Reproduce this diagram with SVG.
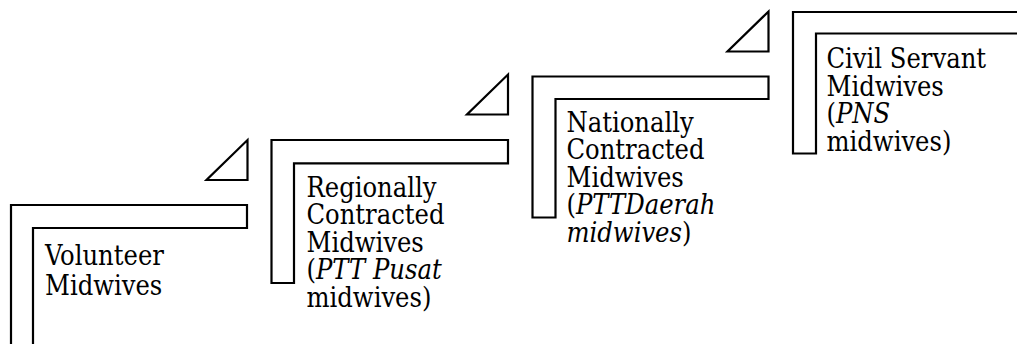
<svg xmlns="http://www.w3.org/2000/svg" width="1017" height="344" viewBox="0 0 1017 344">
  <style>
    .step { fill: #ffffff; stroke: #000000; stroke-width: 2.2; stroke-linejoin: miter; }
    .arrow { fill: #ffffff; stroke: #000000; stroke-width: 2.2; stroke-linejoin: miter; }
    .label { font-family: 'DejaVu Serif Condensed', 'DejaVu Serif', serif; font-stretch: condensed; font-size: 27px; fill: #000000; }
    .it { font-style: italic; }
  </style>
  <rect width="1017" height="344" fill="#ffffff"/>

  <!-- rising triangles between the steps -->
  <g id="connectors">
    <polygon class="arrow" points="247.5,140 247.5,180 206.5,180"/>
    <polygon class="arrow" points="508,74.5 508,114.5 467,114.5"/>
    <polygon class="arrow" points="768.5,11.5 768.5,51.5 727.5,51.5"/>
  </g>

  <!-- step 1 -->
  <g id="step-volunteer">
    <path class="step" d="M11,352 V205 H247 V228 H33 V352 Z"/>
    <text class="label" x="45" y="265">
      <tspan x="45">Volunteer</tspan>
      <tspan x="45" dy="29.5">Midwives</tspan>
    </text>
  </g>

  <!-- step 2 -->
  <g id="step-regional">
    <path class="step" d="M271.5,283 V140 H508 V163.3 H294 V283 Z"/>
    <text class="label" x="306.5" y="196.7">
      <tspan x="306.5">Regionally</tspan>
      <tspan x="306.5" dy="27.5">Contracted</tspan>
      <tspan x="306.5" dy="27.5">Midwives</tspan>
      <tspan x="306.5" dy="27.5">(<tspan class="it">PTT Pusat</tspan></tspan>
      <tspan x="306.5" dy="27.5">midwives)</tspan>
    </text>
  </g>

  <!-- step 3 -->
  <g id="step-national">
    <path class="step" d="M532.5,217.5 V76.5 H768.5 V99 H555.5 V217.5 Z"/>
    <text class="label" x="566.5" y="131.7">
      <tspan x="566.5">Nationally</tspan>
      <tspan x="566.5" dy="27.5">Contracted</tspan>
      <tspan x="566.5" dy="27.5">Midwives</tspan>
      <tspan x="566.5" dy="27.5">(<tspan class="it">PTTDaerah</tspan></tspan>
      <tspan x="566.5" dy="27.5"><tspan class="it">midwives</tspan>)</tspan>
    </text>
  </g>

  <!-- step 4 -->
  <g id="step-civil">
    <path class="step" d="M793,153.5 V12 H1030 V33.5 H816 V153.5 Z"/>
    <text class="label" x="826.5" y="68.3">
      <tspan x="826.5">Civil Servant</tspan>
      <tspan x="826.5" dy="27.5">Midwives</tspan>
      <tspan x="826.5" dy="27.5">(<tspan class="it">PNS</tspan></tspan>
      <tspan x="826.5" dy="27.5">midwives)</tspan>
    </text>
  </g>
</svg>
